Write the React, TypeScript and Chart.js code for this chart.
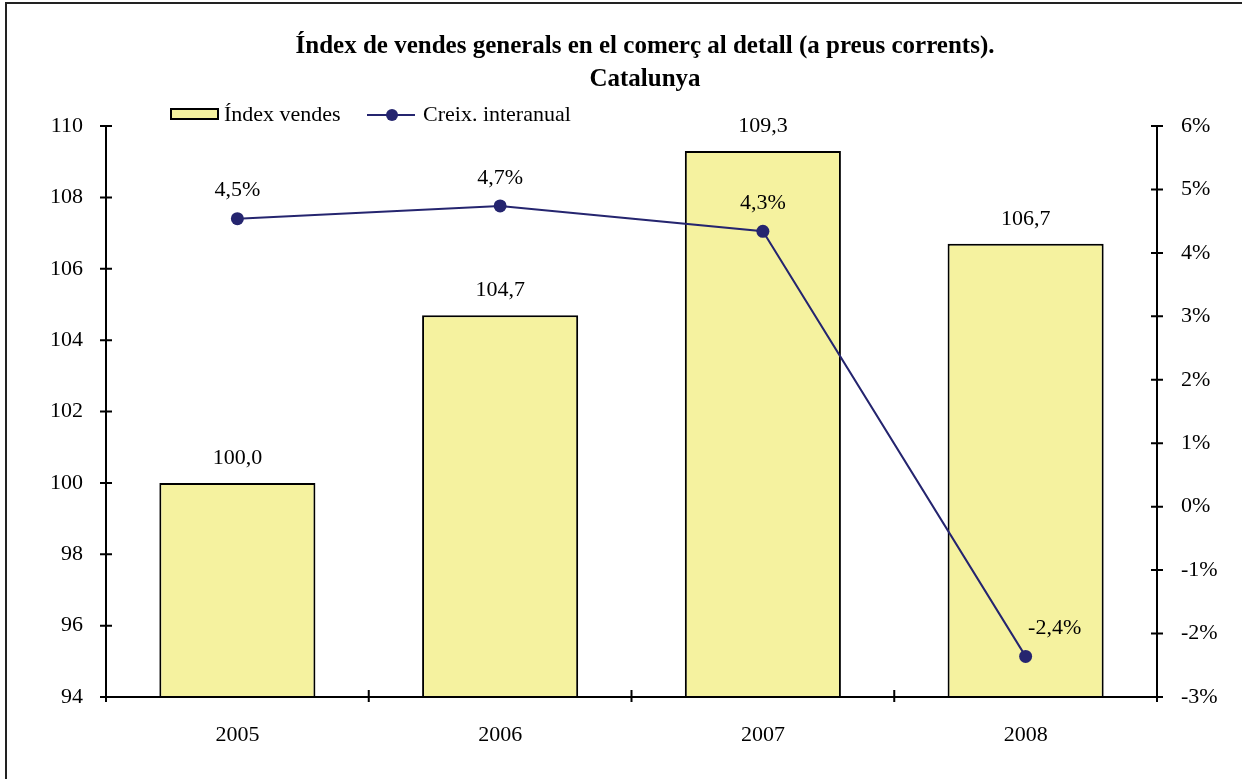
import React, { useEffect, useRef } from 'react';
import { Chart, registerables } from 'chart.js';

Chart.register(...registerables);

// Chart data
const years = ['2005', '2006', '2007', '2008'];
const salesIndex = [100.0, 104.7, 109.3, 106.7];
const yearlyGrowth = [4.54, 4.74, 4.34, -2.36];

const titleLines = ['Índex de vendes generals en el comerç al detall (a preus corrents).', 'Catalunya'];
const barLabel = 'Índex vendes';
const lineLabel = 'Creix. interanual';

// Styling
const SERIF = '"Liberation Serif", "Times New Roman", serif';
const BAR_FILL = '#F5F29F';
const LINE_COLOR = '#25256F';
const lineLabelDx = [0, 0, 0, 29];

const fmt = (v: number) => v.toFixed(1).replace('.', ',');

const excelPlugin = {
  id: 'excelLook',
  afterDatasetsDraw(chart: any) {
    const { ctx, chartArea: a, scales } = chart;
    ctx.save();

    // axis lines + crossing tick marks
    ctx.strokeStyle = '#000';
    ctx.lineWidth = 2;
    ctx.beginPath();
    ctx.moveTo(a.left, a.top);
    ctx.lineTo(a.left, a.bottom);
    ctx.moveTo(a.right, a.top);
    ctx.lineTo(a.right, a.bottom);
    ctx.moveTo(a.left, a.bottom);
    ctx.lineTo(a.right, a.bottom);
    scales.y.ticks.forEach((t: any) => {
      const py = scales.y.getPixelForValue(t.value);
      ctx.moveTo(a.left - 6, py);
      ctx.lineTo(a.left + 6, py);
    });
    scales.y2.ticks.forEach((t: any) => {
      const py = scales.y2.getPixelForValue(t.value);
      ctx.moveTo(a.right - 6, py);
      ctx.lineTo(a.right + 6, py);
    });
    for (let i = 0; i <= years.length; i++) {
      const px = scales.x.getPixelForValue(i - 0.5);
      ctx.moveTo(px, a.bottom - 7);
      ctx.lineTo(px, a.bottom + 5);
    }
    ctx.stroke();

    // value labels
    ctx.fillStyle = '#000';
    ctx.font = `22px ${SERIF}`;
    ctx.textAlign = 'center';
    ctx.textBaseline = 'middle';
    chart.getDatasetMeta(1).data.forEach((bar: any, i: number) => {
      ctx.fillText(fmt(salesIndex[i]), bar.x, bar.y - 25);
    });
    chart.getDatasetMeta(0).data.forEach((pt: any, i: number) => {
      ctx.fillText(fmt(yearlyGrowth[i]) + '%', pt.x + lineLabelDx[i], pt.y - 28);
    });

    // title
    ctx.font = `bold 25px ${SERIF}`;
    ctx.fillText(titleLines[0], 645, 47);
    ctx.fillText(titleLines[1], 645, 80);

    // legend
    ctx.fillStyle = BAR_FILL;
    ctx.fillRect(171, 109, 47, 10);
    ctx.lineWidth = 2;
    ctx.strokeStyle = '#000';
    ctx.strokeRect(171, 109, 47, 10);
    ctx.strokeStyle = LINE_COLOR;
    ctx.beginPath();
    ctx.moveTo(367, 115);
    ctx.lineTo(415, 115);
    ctx.stroke();
    ctx.fillStyle = LINE_COLOR;
    ctx.beginPath();
    ctx.arc(392, 115, 6, 0, Math.PI * 2);
    ctx.fill();
    ctx.fillStyle = '#000';
    ctx.font = `22px ${SERIF}`;
    ctx.textAlign = 'left';
    ctx.fillText(barLabel, 224, 115);
    ctx.fillText(lineLabel, 423, 115);

    ctx.restore();
  },
};

function App() {
  const canvasRef = useRef<HTMLCanvasElement>(null);
  const chartRef = useRef<Chart | null>(null);

  useEffect(() => {
    if (!canvasRef.current) return;
    if (chartRef.current) {
      chartRef.current.destroy();
      chartRef.current = null;
    }

    const tickFont = { family: SERIF, size: 22 };

    chartRef.current = new Chart(canvasRef.current, {
      type: 'bar',
      data: {
        labels: years,
        datasets: [
          {
            type: 'line',
            label: lineLabel,
            data: yearlyGrowth,
            yAxisID: 'y2',
            borderColor: LINE_COLOR,
            backgroundColor: LINE_COLOR,
            borderWidth: 2,
            pointRadius: 6.5,
            pointBackgroundColor: LINE_COLOR,
            pointBorderWidth: 0,
            order: 1,
          } as any,
          {
            type: 'bar',
            label: barLabel,
            data: salesIndex,
            yAxisID: 'y',
            backgroundColor: BAR_FILL,
            borderColor: '#000',
            borderWidth: 2,
            borderSkipped: false,
            barPercentage: 0.594,
            categoryPercentage: 1,
            order: 2,
          },
        ],
      },
      options: {
        responsive: false,
        animation: false,
        layout: { padding: { top: 126, left: 0, right: 0, bottom: 0 } },
        plugins: {
          legend: { display: false },
          title: { display: false },
          tooltip: { enabled: false },
        },
        scales: {
          x: {
            grid: { display: false },
            border: { display: false },
            ticks: { color: '#000', font: tickFont, padding: 17 },
            afterFit: (s: any) => { s.height = 82; },
          },
          y: {
            position: 'left',
            min: 94,
            max: 110,
            grid: { display: false },
            border: { display: false },
            ticks: { stepSize: 2, color: '#000', font: tickFont, padding: 15 },
            afterFit: (s: any) => { s.width = 106; },
          },
          y2: {
            position: 'right',
            min: -3,
            max: 6,
            grid: { display: false },
            border: { display: false },
            ticks: {
              stepSize: 1,
              color: '#000',
              font: tickFont,
              padding: 16,
              callback: (v: any) => `${v}%`,
            },
            afterFit: (s: any) => { s.width = 85; },
          },
        },
      },
      plugins: [excelPlugin],
    });

    return () => {
      if (chartRef.current) {
        chartRef.current.destroy();
        chartRef.current = null;
      }
    };
  }, []);

  return (
    <div style={{ position: 'fixed', left: 0, top: 0, width: 1242, height: 779, overflow: 'hidden', background: '#fff' }}>
      <div
        style={{
          position: 'absolute',
          left: 5,
          top: 2,
          width: 1400,
          height: 1000,
          border: '2px solid #222',
        }}
      />
      <canvas ref={canvasRef} width={1242} height={779} style={{ position: 'absolute', left: 0, top: 0 }} />
    </div>
  );
}

export default App;
